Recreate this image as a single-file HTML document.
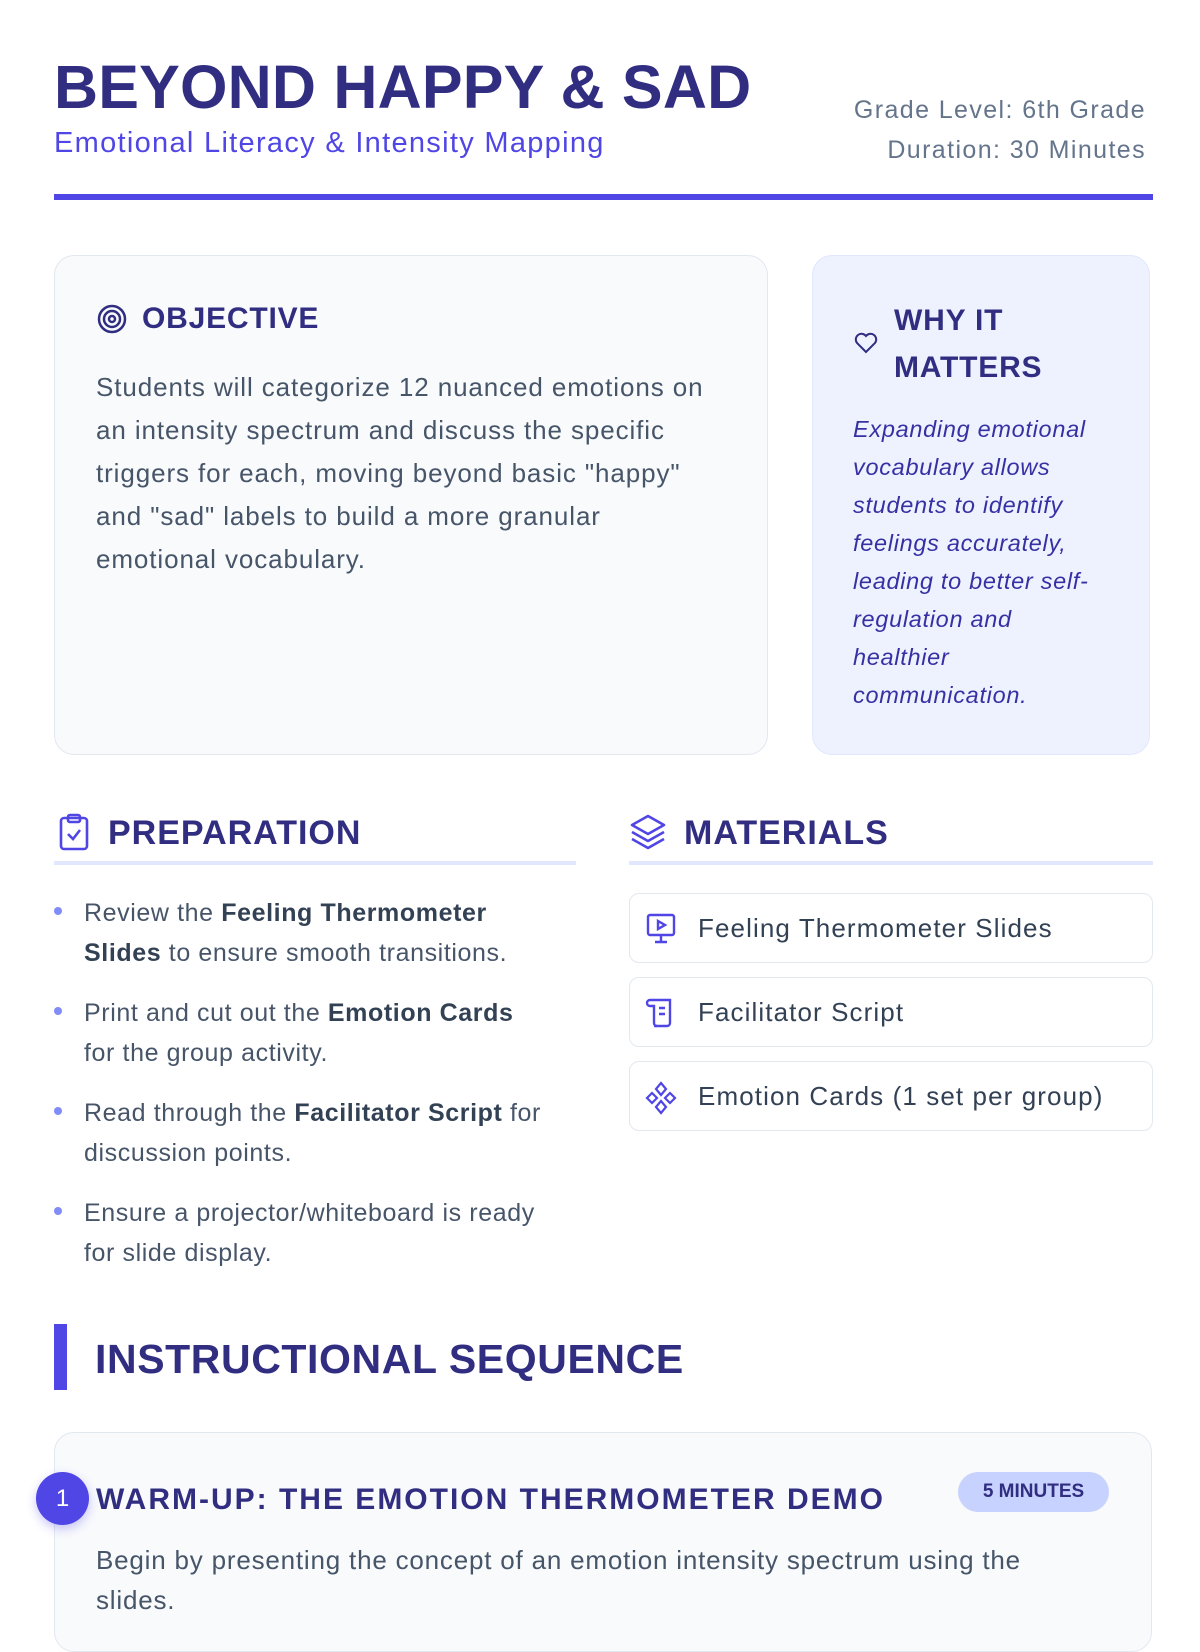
<!DOCTYPE html>
<html><head><meta charset="utf-8"><style>
*{margin:0;padding:0;box-sizing:border-box}
body{width:1200px;height:1600px;background:#fff;position:relative;overflow:hidden;font-family:"Liberation Sans",sans-serif;color:#475569}
.a{position:absolute;white-space:nowrap}
.h{font-weight:bold;color:#312e81}
.card{position:absolute;border:1px solid #e2e8f0;border-radius:20px;background:#f8fafc}
.li{position:absolute;left:84px;width:520px;font-size:25px;line-height:40px;color:#475569;letter-spacing:0.6px;white-space:nowrap}
.li b{color:#334155}
.dot{position:absolute;left:54px;width:8px;height:8px;border-radius:50%;background:#818cf8}
.mat{position:absolute;left:629px;width:524px;height:70px;border:1px solid #e2e8f0;border-radius:10px;background:#fff;font-size:26px;color:#334155;line-height:68px;padding-left:68px;letter-spacing:1.1px}
.mat svg{position:absolute;left:14px;top:19px}
</style></head><body>
<div class="a h" style="left:54px;top:52px;font-size:61px;line-height:70px;letter-spacing:0.2px">BEYOND HAPPY &amp; SAD</div>
<div class="a" style="left:54px;top:126px;font-size:29px;color:#4f46e5;line-height:34px;letter-spacing:1.3px">Emotional Literacy &amp; Intensity Mapping</div>
<div class="a" style="right:54px;top:90px;font-size:25px;color:#64748b;text-align:right;line-height:40px;letter-spacing:1.4px">Grade Level: 6th Grade<br>Duration: 30 Minutes</div>
<div class="a" style="left:54px;top:194px;width:1099px;height:6px;background:#4f46e5"></div>

<div class="card" style="left:54px;top:255px;width:714px;height:500px"></div>
<svg class="a" style="left:96px;top:303px" width="32" height="32" viewBox="0 0 32 32" fill="none" stroke="#312e81" stroke-width="2.5"><circle cx="16" cy="16" r="13"/><circle cx="16" cy="16" r="8"/><circle cx="16" cy="16" r="3"/></svg>
<div class="a h" style="left:142px;top:300px;font-size:30px;line-height:38px;letter-spacing:0.8px">OBJECTIVE</div>
<div class="a" style="left:96px;top:366px;font-size:26px;line-height:43px;color:#475569;letter-spacing:0.9px">Students will categorize 12 nuanced emotions on<br>an intensity spectrum and discuss the specific<br>triggers for each, moving beyond basic "happy"<br>and "sad" labels to build a more granular<br>emotional vocabulary.</div>

<div class="card" style="left:812px;top:255px;width:338px;height:500px;background:#eef2ff;border-color:#e0e7ff"></div>
<svg class="a" style="left:854px;top:332px" width="24" height="22" viewBox="0 0 24 22" fill="none" stroke="#312e81" stroke-width="2"><path d="M12 20 L3 11 A5 5 0 0 1 12 4 A5 5 0 0 1 21 11 Z"/></svg>
<div class="a h" style="left:894px;top:297px;font-size:30px;line-height:47px;letter-spacing:0.8px">WHY IT<br>MATTERS</div>
<div class="a" style="left:853px;top:410px;font-size:23.5px;line-height:38px;font-style:italic;color:#3730a3;letter-spacing:0.7px">Expanding emotional<br>vocabulary allows<br>students to identify<br>feelings accurately,<br>leading to better self-<br>regulation and<br>healthier<br>communication.</div>

<svg class="a" style="left:58px;top:813px" width="32" height="38" viewBox="0 0 32 38" fill="none" stroke="#4f46e5" stroke-width="2.6"><rect x="3" y="5" width="26" height="31" rx="3"/><rect x="10" y="2" width="12" height="7" rx="2"/><path d="M10 21 L15 26 L22 17"/></svg>
<div class="a h" style="left:108px;top:812px;font-size:34px;line-height:42px;letter-spacing:1px">PREPARATION</div>
<div class="a" style="left:54px;top:861px;width:522px;height:4px;background:#e0e7ff"></div>
<svg class="a" style="left:629px;top:813px" width="38" height="38" viewBox="0 0 38 38" fill="none" stroke="#4f46e5" stroke-width="2.6" stroke-linejoin="round"><path d="M19 3 L35 12 L19 21 L3 12 Z"/><path d="M3 19 L19 28 L35 19"/><path d="M3 26 L19 35 L35 26"/></svg>
<div class="a h" style="left:684px;top:812px;font-size:34px;line-height:42px;letter-spacing:1px">MATERIALS</div>
<div class="a" style="left:629px;top:861px;width:524px;height:4px;background:#e0e7ff"></div>

<div class="dot" style="top:907px"></div>
<div class="li" style="top:893px">Review the <b>Feeling Thermometer</b><br><b>Slides</b> to ensure smooth transitions.</div>
<div class="dot" style="top:1007px"></div>
<div class="li" style="top:993px">Print and cut out the <b>Emotion Cards</b><br>for the group activity.</div>
<div class="dot" style="top:1107px"></div>
<div class="li" style="top:1093px">Read through the <b>Facilitator Script</b> for<br>discussion points.</div>
<div class="dot" style="top:1207px"></div>
<div class="li" style="top:1193px">Ensure a projector/whiteboard is ready<br>for slide display.</div>

<div class="mat" style="top:893px"><svg width="34" height="32" viewBox="0 0 34 32" fill="none" stroke="#4f46e5" stroke-width="2.4"><rect x="4" y="2" width="26" height="20" rx="2"/><path d="M14 8 L21 12 L14 16 Z"/><path d="M17 22 V28 M11 29 H23"/></svg>Feeling Thermometer Slides</div>
<div class="mat" style="top:977px"><svg width="34" height="32" viewBox="0 0 34 32" fill="none" stroke="#4f46e5" stroke-width="2.4"><path d="M6 3 H26 V26 A3 3 0 0 1 23 29 H10"/><path d="M6 3 A3 3 0 0 0 6 9 H10 V26 A3 3 0 0 0 13 29"/><path d="M15 11 H21 M15 17 H21"/></svg>Facilitator Script</div>
<div class="mat" style="top:1061px"><svg width="34" height="34" viewBox="0 0 34 34" fill="none" stroke="#4f46e5" stroke-width="2.2"><path d="M17 2 L22 8 L17 14 L12 8 Z"/><path d="M17 20 L22 26 L17 32 L12 26 Z"/><path d="M8 12 L13 17 L8 22 L3 17 Z"/><path d="M26 12 L31 17 L26 22 L21 17 Z"/></svg>Emotion Cards (1 set per group)</div>

<div class="a" style="left:54px;top:1324px;width:13px;height:66px;background:#4f46e5"></div>
<div class="a h" style="left:95px;top:1335px;font-size:41px;line-height:48px;letter-spacing:0.6px">INSTRUCTIONAL SEQUENCE</div>

<div class="card" style="left:54px;top:1432px;width:1098px;height:220px"></div>
<div class="a" style="left:36px;top:1472px;width:53px;height:53px;border-radius:50%;background:#4f46e5;color:#fff;font-size:24px;line-height:53px;text-align:center;box-shadow:0 4px 10px rgba(79,70,229,.3)">1</div>
<div class="a h" style="left:96px;top:1481px;font-size:30px;line-height:38px;letter-spacing:2px">WARM-UP: THE EMOTION THERMOMETER DEMO</div>
<div class="a" style="left:958px;top:1472px;width:151px;height:40px;border-radius:20px;background:#c7d2fe;color:#312e81;font-weight:bold;font-size:19px;line-height:40px;text-align:center">5 MINUTES</div>
<div class="a" style="left:96px;top:1540px;font-size:26px;line-height:40px;color:#475569;letter-spacing:0.8px">Begin by presenting the concept of an emotion intensity spectrum using the<br>slides.</div>
</body></html>
